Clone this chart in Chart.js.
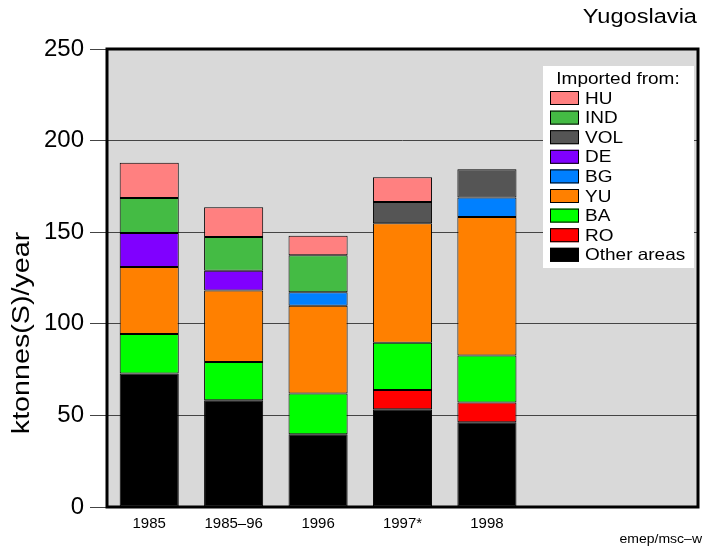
<!DOCTYPE html>
<html>
<head>
<meta charset="utf-8">
<script src="https://cdn.jsdelivr.net/npm/chart.js@4.4.0/dist/chart.umd.min.js"></script>
<style>
  body { margin: 0; background: #fff; }
  #wrap { width: 704px; height: 550px; }
</style>
</head>
<body>
<div id="wrap"><canvas id="barChart" width="704" height="550"></canvas></div>
<script>
// categories (two empty slots on the right, as in the original layout)
var years = ['1985', '1985\u201396', '1996', '1997*', '1998', '', ''];

// ktonnes(S)/year per source, bottom of stack first
var other = [72.9, 58.3, 39.7, 53.4, 46.3];
var ro    = [null, null, null, 10.5, 10.7];
var ba    = [21.5, 20.8, 22.3, 25.7, 25.7];
var yu    = [36.6, 39.1, 47.8, 65.3, 75.6];
var bg    = [null, null, 7.4, null, 10.6];
var de    = [18.6, 10.8, null, null, null];
var vol   = [null, null, null, 11.6, 15.5];
var ind   = [19.1, 18.4, 20.2, null, null];
var hu    = [19.2, 16.2, 10.7, 13.5, null];

var yTicks = [0, 50, 100, 150, 200, 250];

var FONT = '"Liberation Sans", Arial, sans-serif';

function ds(label, data, color) {
    return {
        label: label,
        data: data,
        backgroundColor: color,
        borderColor: '#000',
        borderWidth: 1,
        borderSkipped: false,
        barPercentage: 0.7,
        categoryPercentage: 1.0
    };
}

// text a bit wider than the font, like the original plot
function wideText(c, txt, x, y, size, sx, align, rot) {
    c.save();
    c.translate(x, y);
    if (rot) c.rotate(rot);
    c.scale(sx, 1);
    c.font = size + 'px ' + FONT;
    c.textAlign = align;
    c.textBaseline = 'middle';
    c.fillStyle = '#000';
    c.fillText(txt, 0, 0);
    c.restore();
}

var framePlugin = {
    id: 'frame',
    beforeDraw: function(chart) {
        var a = chart.chartArea, c = chart.ctx;
        c.save();
        c.fillStyle = '#d9d9d9';
        c.fillRect(a.left, a.top, a.right - a.left, a.bottom - a.top);
        c.restore();
    },
    afterDraw: function(chart) {
        var a = chart.chartArea, c = chart.ctx;
        c.save();
        // frame
        c.strokeStyle = '#000';
        c.lineWidth = 3;
        c.strokeRect(a.left, a.top, a.right - a.left, a.bottom - a.top);

        // legend box
        c.fillStyle = '#fff';
        c.fillRect(543, 66, 151, 202);
        wideText(c, 'Imported from:', 618, 79, 16.5, 1.15, 'center');
        var sets = chart.data.datasets.slice().reverse();
        sets.forEach(function(d, i) {
            var y = 98 + i * 19.6;
            c.fillStyle = d.backgroundColor;
            c.fillRect(550, y - 7, 29, 14);
            c.lineWidth = 1;
            c.strokeStyle = '#000';
            c.strokeRect(550.5, y - 6.5, 28, 13);
            wideText(c, d.label, 585, y + 1, 16.5, 1.15, 'left');
        });
        c.restore();

        // title
        wideText(c, 'Yugoslavia', 697, 17, 20, 1.18, 'right');
        // credit
        wideText(c, 'emep/msc\u2013w', 702, 540, 12.5, 1.12, 'right');
        // y title
        wideText(c, 'ktonnes(S)/year', 23, 333, 23.5, 1.22, 'center', -Math.PI / 2);
    }
};

var ctx = document.getElementById('barChart').getContext('2d');
var myChart = new Chart(ctx, {
    type: 'bar',
    data: {
        labels: years,
        datasets: [
            ds('Other areas', other, '#000000'),
            ds('RO', ro, '#ff0000'),
            ds('BA', ba, '#00ff00'),
            ds('YU', yu, '#ff8000'),
            ds('BG', bg, '#0080ff'),
            ds('DE', de, '#8000ff'),
            ds('VOL', vol, '#555555'),
            ds('IND', ind, '#44bb44'),
            ds('HU', hu, '#ff8080')
        ]
    },
    options: {
        responsive: false,
        animation: false,
        layout: {
            padding: { left: 0, top: 49, right: 6, bottom: 0 }
        },
        plugins: {
            legend: { display: false },
            tooltip: { enabled: false }
        },
        scales: {
            x: {
                stacked: true,
                grid: { display: false, drawTicks: false },
                border: { display: false },
                ticks: {
                    color: '#000',
                    font: { size: 15, family: FONT },
                    padding: 8,
                    maxRotation: 0
                },
                afterFit: function(s) { s.height = 43; }
            },
            y: {
                stacked: true,
                min: 0,
                max: 250,
                grid: { color: '#444', lineWidth: 1, tickLength: 17, tickColor: '#444' },
                border: { display: false },
                afterBuildTicks: function(s) {
                    s.ticks = yTicks.map(function(v) { return { value: v }; });
                },
                ticks: {
                    color: '#000',
                    font: { size: 24, family: FONT },
                    padding: 6
                },
                afterFit: function(s) { s.width = 107; }
            }
        }
    },
    plugins: [framePlugin]
});
</script>
</body>
</html>
